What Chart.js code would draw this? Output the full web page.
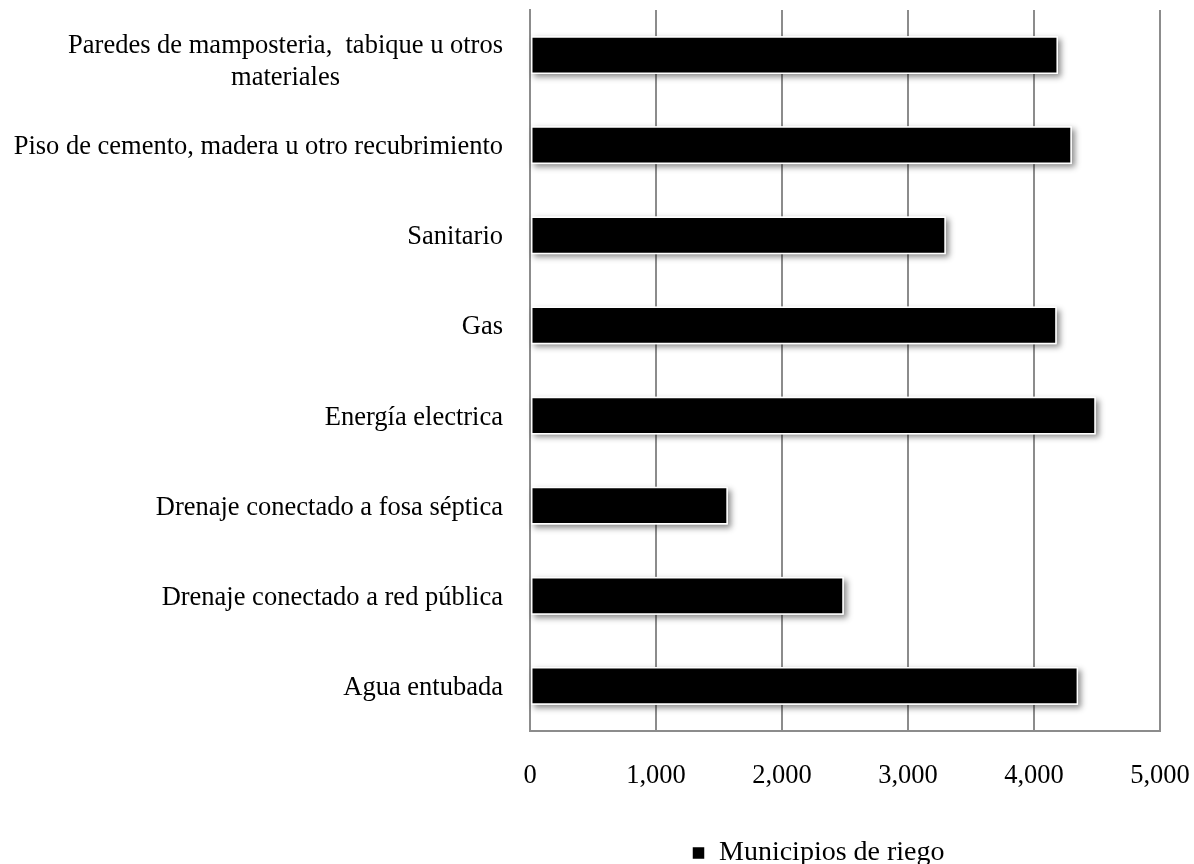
<!DOCTYPE html>
<html>
<head>
<meta charset="utf-8">
<script src="https://cdn.jsdelivr.net/npm/chart.js@4"></script>
<style>
  html, body { margin: 0; padding: 0; background: #fff; }
  #wrap { width: 1194px; height: 864px; position: relative; }
</style>
</head>
<body>
<div id="wrap"><canvas id="chart"></canvas></div>
<script>
// Services available in the dwellings of irrigation municipalities
const categories = [
  ['Paredes de mamposteria,  tabique u otros', 'materiales'],
  'Piso de cemento, madera u otro recubrimiento',
  'Sanitario',
  'Gas',
  'Energía electrica',
  'Drenaje conectado a fosa séptica',
  'Drenaje conectado a red pública',
  'Agua entubada'
];
const municipiosDeRiego = [4190, 4300, 3300, 4180, 4490, 1570, 2490, 4350];
const seriesName = 'Municipios de riego';
const xTicks = { min: 0, max: 5000, step: 1000 };

const FONT_FAMILY = "'Liberation Serif', 'Times New Roman', serif";
const LABEL_FONT_SIZE = 26.5;
const GRID_COLOR = '#8c8c8c';

// Soft drop shadow under each bar, drawn before the bars themselves
const barShadow = {
  id: 'barShadow',
  beforeDatasetsDraw(chart) {
    const ctx = chart.ctx;
    chart.getDatasetMeta(0).data.forEach(bar => {
      const { x, y, base, height } = bar.getProps(['x', 'y', 'base', 'height'], true);
      ctx.save();
      ctx.shadowColor = 'rgba(0,0,0,0.45)';
      ctx.shadowBlur = 6;
      ctx.shadowOffsetX = 3;
      ctx.shadowOffsetY = 3;
      ctx.fillStyle = '#ffffff';
      ctx.fillRect(Math.min(base, x), y - height / 2, Math.abs(x - base), height);
      ctx.restore();
    });
  }
};

// Category labels: right-aligned blocks, multi-line labels centred line by line
const blockLabels = {
  id: 'blockLabels',
  afterDraw(chart) {
    const scale = chart.scales.y;
    const ctx = chart.ctx;
    const lineH = 32;
    const gap = 27;
    ctx.save();
    ctx.font = `${LABEL_FONT_SIZE}px ${FONT_FAMILY}`;
    ctx.fillStyle = '#000';
    ctx.textBaseline = 'middle';
    ctx.textAlign = 'center';
    const labels = scale.getLabels();
    labels.forEach((label, i) => {
      const lines = Array.isArray(label) ? label : [label];
      const widths = lines.map(l => ctx.measureText(l).width);
      const blockW = Math.max(...widths);
      const cx = scale.right - gap - blockW / 2;
      const cy = scale.getPixelForValue(i) + (lines.length > 1 ? 7 : 2);
      const y0 = cy - (lines.length - 1) * lineH / 2;
      lines.forEach((l, k) => ctx.fillText(l, cx, y0 + k * lineH));
    });
    ctx.restore();
  }
};

// Place the legend row under the value axis
const legendOffset = {
  id: 'legendOffset',
  afterLayout(chart) {
    const lg = chart.legend;
    if (!lg || !lg.lineWidths) return;
    const pad = lg.options.labels.padding;
    const start = (lg.left + pad + lg.right - lg.lineWidths[0]) / 2;
    const dx = 692 - start;
    lg.left += dx;
    lg.right += dx;
  }
};

new Chart(document.getElementById('chart'), {
  type: 'bar',
  data: {
    labels: categories,
    datasets: [{
      label: seriesName,
      data: municipiosDeRiego,
      backgroundColor: '#000000',
      borderColor: '#ffffff',
      borderWidth: 1.5,
      borderSkipped: false,
      barPercentage: 0.42,
      categoryPercentage: 1
    }]
  },
  options: {
    indexAxis: 'y',
    responsive: true,
    maintainAspectRatio: false,
    animation: false,
    locale: 'en-US',
    layout: { padding: { top: 10, right: 34, bottom: -13, left: 0 } },
    scales: {
      x: {
        min: xTicks.min,
        max: xTicks.max,
        ticks: {
          stepSize: xTicks.step,
          color: '#000',
          padding: 29,
          maxRotation: 0,
          font: { family: FONT_FAMILY, size: LABEL_FONT_SIZE }
        },
        grid: { color: GRID_COLOR, lineWidth: 2, drawTicks: false },
        border: { display: true, color: GRID_COLOR, width: 2 },
        afterFit(scale) {
          scale.paddingLeft = 0;
          scale.paddingRight = 0;
          scale.height = 106;
        }
      },
      y: {
        ticks: { display: false },
        grid: { display: false, drawTicks: false },
        border: { display: true, color: GRID_COLOR, width: 2 },
        afterFit(scale) { scale.width = 530; }
      }
    },
    plugins: {
      legend: {
        position: 'bottom',
        fullSize: false,
        labels: {
          color: '#000',
          boxWidth: 13,
          boxHeight: 13,
          padding: 2,
          font: { family: FONT_FAMILY, size: 28 }
        }
      },
      tooltip: { enabled: false }
    }
  },
  plugins: [barShadow, blockLabels, legendOffset]
});
</script>
</body>
</html>
